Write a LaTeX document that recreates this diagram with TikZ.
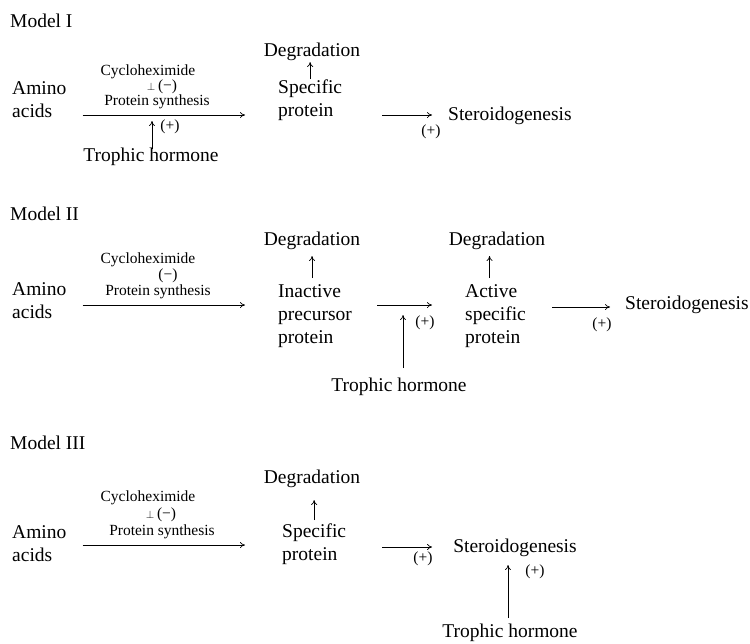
\documentclass[tikz,border=0pt]{standalone}
\usepackage{fontspec}
\setmainfont{Liberation Serif}
\usetikzlibrary{arrows.meta}
\begin{document}
\begin{tikzpicture}[x=1pt,y=-1pt,
 big/.style={font=\fontsize{19.5}{23}\selectfont, inner sep=0pt},
 small/.style={font=\fontsize{15.5}{18}\selectfont, inner sep=0pt},
 multi/.style={big, align=left},
 arr/.style={-{To[length=5pt,width=6pt]}, line width=0.7pt},
]
\useasboundingbox (0,0) rectangle (750,643);
\fill[white] (0,0) rectangle (750,643);
\newcommand{\inhsym}{{\fontsize{11}{11}\selectfont$\perp$}\,(−)}

% ---------------- Model I ----------------
\node[big, anchor=west] (t1) at (10,21) {Model I};
\node[big] (deg1) at (312,52) {Degradation};
\node[multi, anchor=west] (spec1) at (278,100) {Specific\\protein};
\node[multi, anchor=west] (amino1) at (12,100) {Amino\\acids};
\node[small] (cyc1) at (148,72) {Cycloheximide};
\node[small] (inh1) at (162,87) {\inhsym};
\node[small] (ps1) at (157,102) {Protein synthesis};
\node[small] (plus1) at (170,127) {(+)};
\node[big] (troph1) at (151,157) {Trophic hormone};
\node[big, anchor=west] (ster1) at (448,116) {Steroidogenesis};
\node[small] (plus1b) at (431,132) {(+)};

\draw[arr] ([xshift=16pt]amino1.east |- 0,115) -- ([xshift=-33pt]spec1.west |- 0,115);
\draw[arr] ([xshift=40pt]spec1.east |- 0,115) -- ([xshift=-16pt]ster1.west |- 0,115);
\draw[arr] (spec1.north |- 0,79) -- (spec1.north |- 0,62);
\draw[arr] ([xshift=1pt]troph1.north |- 0,149) -- ([xshift=1pt]troph1.north |- 0,121);

% ---------------- Model II ----------------
\node[big, anchor=west] (t2) at (10,214) {Model II};
\node[big] (deg2a) at (312,241) {Degradation};
\node[big] (deg2b) at (497,241) {Degradation};
\node[multi, anchor=west] (inact) at (278,316) {Inactive\\precursor\\protein};
\node[multi, anchor=west] (act) at (465,316) {Active\\specific\\protein};
\node[multi, anchor=west] (amino2) at (12,301) {Amino\\acids};
\node[small] (cyc2) at (148,260) {Cycloheximide};
\node[small] (inh2) at (168,276) {(−)};
\node[small] (ps2) at (158,292) {Protein synthesis};
\node[small] (plus2a) at (425,323) {(+)};
\node[big] (troph2) at (399,387) {Trophic hormone};
\node[big, anchor=west] (ster2) at (625,305) {Steroidogenesis};
\node[small] (plus2b) at (602,325) {(+)};

\draw[arr] ([xshift=16pt]amino2.east |- 0,305) -- ([xshift=-33pt]inact.west |- 0,305);
\draw[arr] ([xshift=25pt]inact.east |- 0,305) -- ([xshift=-33pt]act.west |- 0,305);
\draw[arr] ([xshift=26pt]act.east |- 0,307) -- ([xshift=-15pt]ster2.west |- 0,307);
\draw[arr] ([xshift=-3pt]inact.north |- 0,278) -- ([xshift=-3pt]inact.north |- 0,256);
\draw[arr] ([xshift=-6pt]act.north |- 0,278) -- ([xshift=-6pt]act.north |- 0,256);
\draw[arr] ([xshift=4pt]troph2.north |- 0,368) -- ([xshift=4pt]troph2.north |- 0,315);

% ---------------- Model III ----------------
\node[big, anchor=west] (t3) at (10,443) {Model III};
\node[big] (deg3) at (312,479) {Degradation};
\node[multi, anchor=west] (spec3) at (282,544) {Specific\\protein};
\node[multi, anchor=west] (amino3) at (12,544) {Amino\\acids};
\node[small] (cyc3) at (148,498) {Cycloheximide};
\node[small] (inh3) at (161,515) {\inhsym};
\node[small] (ps3) at (162,532) {Protein synthesis};
\node[big] (ster3) at (515,548) {Steroidogenesis};
\node[small] (plus3a) at (423,559) {(+)};
\node[small] (plus3b) at (535,572) {(+)};
\node[big] (troph3) at (510,633) {Trophic hormone};

\draw[arr] ([xshift=16pt]amino3.east |- 0,545) -- ([xshift=-37pt]spec3.west |- 0,545);
\draw[arr] ([xshift=36pt]spec3.east |- 0,547) -- ([xshift=-21pt]ster3.west |- 0,547);
\draw[arr] (spec3.north |- 0,520) -- (spec3.north |- 0,500);
\draw[arr] ([xshift=-2pt]troph3.north |- 0,618) -- ([xshift=-2pt]troph3.north |- 0,565);
\end{tikzpicture}
\end{document}
